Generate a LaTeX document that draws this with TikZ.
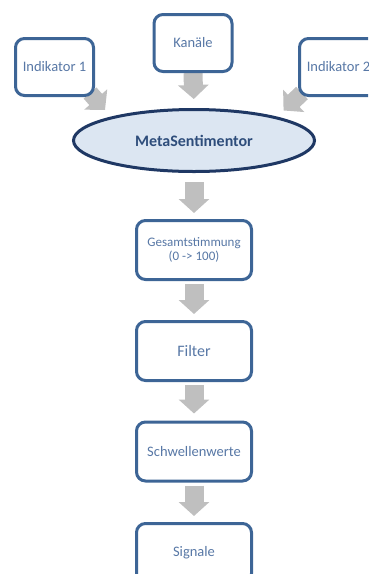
\documentclass[tikz,border=0pt]{standalone}
\usepackage{fontspec}
\setmainfont{Carlito}
\usetikzlibrary{arrows.meta,shapes.geometric,backgrounds}
\definecolor{boxline}{HTML}{3D6596}
\definecolor{boxtext}{HTML}{5878A6}
\definecolor{metaline}{HTML}{1F3864}
\definecolor{metafill}{HTML}{DCE6F2}
\definecolor{metatext}{HTML}{2E4D7B}
\definecolor{arrowgray}{HTML}{BFBFBF}
\tikzset{
  stepbox/.style={draw=boxline, line width=3pt, rounded corners=9pt, fill=white,
    text=boxtext, align=center, inner sep=0pt},
  topbox/.style={stepbox, minimum width=78pt, minimum height=57pt,
    font=\fontsize{14.5}{17}\selectfont},
  flowbox/.style={stepbox, minimum width=115pt, minimum height=59pt,
    font=\fontsize{14.5}{17}\selectfont},
  bigarrow/.style={draw=arrowgray, line width=19pt, -{Triangle[width=30pt,length=14pt]}},
  flowarrow/.style={bigarrow, shorten <=3pt, shorten >=6pt}
}
\begin{document}
\begin{tikzpicture}[x=1pt,y=-1pt]
\useasboundingbox (0,0) rectangle (368,574);
\clip (0,0) rectangle (368,574);
% inputs
\node[topbox] (ind1) at (54.5,67) {Indikator 1};
\node[topbox] (kan) at (193,43) {Kanäle};
\node[topbox] (ind2) at (338.5,67) {Indikator 2};
% sentiment engine
\node[ellipse, draw=metaline, line width=3pt, fill=metafill, text=metatext,
  minimum width=241pt, minimum height=62pt, inner sep=0pt,
  font=\fontsize{16}{19}\selectfont\bfseries] (meta) at (194,140.5) {MetaSentimentor};
% chain
\node[flowbox, font=\fontsize{13}{14}\selectfont] (gesamt) at (194,250) {Gesamtstimmung\\(0 -> 100)};
\node[flowbox, font=\fontsize{16}{19}\selectfont] (filter) at (194,351) {Filter};
\node[flowbox] (schwelle) at (194,451.5) {Schwellenwerte};
\node[flowbox] (signale) at (194,553) {Signale};
% arrows
\begin{scope}[on background layer]
\draw[bigarrow, line width=17pt, shorten >=9pt] ([shift={(-5,-4)}]ind1.south east) -- (meta.164);
\draw[bigarrow, shorten >=9pt] (kan.south) -- (meta.north);
\draw[bigarrow, line width=17pt, shorten >=9pt] ([shift={(4,-4)}]ind2.south west) -- (meta.16);
\draw[flowarrow, shorten <=9pt] (meta.south) -- (gesamt.north);
\draw[flowarrow] (gesamt.south) -- (filter.north);
\draw[flowarrow, shorten >=7pt] (filter.south) -- (schwelle.north);
\draw[flowarrow] (schwelle.south) -- (signale.north);
\end{scope}
\end{tikzpicture}
\end{document}
